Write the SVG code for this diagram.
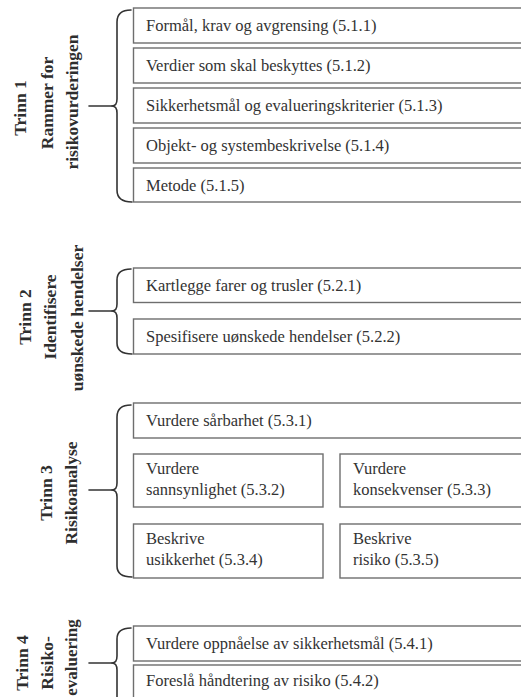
<svg xmlns="http://www.w3.org/2000/svg" width="521" height="697" viewBox="0 0 521 697">
  <style>
    .box { fill: #ffffff; stroke: #6e6e6e; stroke-width: 1.4; }
    .t { font-family: "Liberation Serif", "DejaVu Serif", serif; font-size: 16.5px; fill: #333333; }
    .lbl { font-family: "Liberation Serif", "DejaVu Serif", serif; font-size: 17.5px; font-weight: bold; fill: #2e2e2e; text-anchor: middle; }
    .brace { fill: none; stroke: #333333; stroke-width: 1.6; stroke-linecap: round; stroke-linejoin: round; }
  </style>
  <rect x="0" y="0" width="521" height="697" fill="#ffffff"/>

  <!-- Trinn labels -->
  <g id="label-trinn1">
    <text class="lbl" transform="translate(26,108) rotate(-90)">Trinn 1</text>
    <text class="lbl" transform="translate(53,103) rotate(-90)">Rammer for</text>
    <text class="lbl" transform="translate(77.5,102) rotate(-90)">risikovurderingen</text>
  </g>
  <g id="label-trinn2">
    <text class="lbl" transform="translate(31,317) rotate(-90)">Trinn 2</text>
    <text class="lbl" transform="translate(56,317) rotate(-90)">Identifisere</text>
    <text class="lbl" transform="translate(83,318) rotate(-90)">uønskede hendelser</text>
  </g>
  <g id="label-trinn3">
    <text class="lbl" transform="translate(52,493) rotate(-90)">Trinn 3</text>
    <text class="lbl" transform="translate(76.5,493) rotate(-90)">Risikoanalyse</text>
  </g>
  <g id="label-trinn4">
    <text class="lbl" transform="translate(28,663) rotate(-90)">Trinn 4</text>
    <text class="lbl" transform="translate(53,663) rotate(-90)">Risiko-</text>
    <text class="lbl" transform="translate(77,657.5) rotate(-90)" style="font-size:17px">evaluering</text>
  </g>

  <!-- Braces (connectors) -->
  <g id="connectors">
    <path class="brace" d="M131 10 Q117 10 117 22 L117 99 Q117 106 112 106 Q117 106 117 113 L117 190 Q117 202 132 202"/>
    <path class="brace" d="M89 106 L112 106"/>
    <path class="brace" d="M131 269 Q117 269 117 280 L117 304 Q117 311 112 311 Q117 311 117 318 L117 343 Q117 354 132 354"/>
    <path class="brace" d="M89 311 L112 311"/>
    <path class="brace" d="M131 405 Q117 405 117 417 L117 483 Q117 490 112 490 Q117 490 117 497 L117 566 Q117 577 132 577"/>
    <path class="brace" d="M89 490 L112 490"/>
    <path class="brace" d="M131 628 Q117 628 117 639 L117 656 Q117 663 112 663 Q117 663 117 670 L117 697"/>
    <path class="brace" d="M89 663 L112 663"/>
  </g>

  <!-- Trinn 1 boxes -->
  <g id="n511"><rect class="box" x="133.5" y="8" width="400" height="35"/><text class="t" x="146" y="31">Formål, krav og avgrensing (5.1.1)</text></g>
  <g id="n512"><rect class="box" x="133.5" y="48" width="400" height="35"/><text class="t" x="146" y="71">Verdier som skal beskyttes (5.1.2)</text></g>
  <g id="n513"><rect class="box" x="133.5" y="88" width="400" height="35"/><text class="t" x="146" y="111">Sikkerhetsmål og evalueringskriterier (5.1.3)</text></g>
  <g id="n514"><rect class="box" x="133.5" y="128" width="400" height="35"/><text class="t" x="146" y="151">Objekt- og systembeskrivelse (5.1.4)</text></g>
  <g id="n515"><rect class="box" x="133.5" y="168" width="400" height="34"/><text class="t" x="146" y="190.5">Metode (5.1.5)</text></g>

  <!-- Trinn 2 boxes -->
  <g id="n521"><rect class="box" x="133.5" y="268" width="400" height="34.5"/><text class="t" x="146" y="290.5">Kartlegge farer og trusler (5.2.1)</text></g>
  <g id="n522"><rect class="box" x="133.5" y="319" width="400" height="35"/><text class="t" x="146" y="342">Spesifisere uønskede hendelser (5.2.2)</text></g>

  <!-- Trinn 3 boxes -->
  <g id="n531"><rect class="box" x="133.5" y="403" width="400" height="35"/><text class="t" x="146" y="426">Vurdere sårbarhet (5.3.1)</text></g>
  <g id="n532"><rect class="box" x="133.5" y="454" width="189.5" height="53"/><text class="t" x="146" y="474">Vurdere</text><text class="t" x="146" y="494.5">sannsynlighet (5.3.2)</text></g>
  <g id="n533"><rect class="box" x="340" y="454" width="200" height="53"/><text class="t" x="353" y="474">Vurdere</text><text class="t" x="353" y="494.5">konsekvenser (5.3.3)</text></g>
  <g id="n534"><rect class="box" x="133.5" y="524" width="189.5" height="54"/><text class="t" x="146" y="544">Beskrive</text><text class="t" x="146" y="565">usikkerhet (5.3.4)</text></g>
  <g id="n535"><rect class="box" x="340" y="524" width="200" height="54"/><text class="t" x="353" y="544">Beskrive</text><text class="t" x="353" y="565">risiko (5.3.5)</text></g>

  <!-- Trinn 4 boxes -->
  <g id="n541"><rect class="box" x="133.5" y="626" width="400" height="35"/><text class="t" x="146" y="649">Vurdere oppnåelse av sikkerhetsmål (5.4.1)</text></g>
  <g id="n542"><rect class="box" x="133.5" y="665" width="400" height="40"/><text class="t" x="146" y="686">Foreslå håndtering av risiko (5.4.2)</text></g>
</svg>
